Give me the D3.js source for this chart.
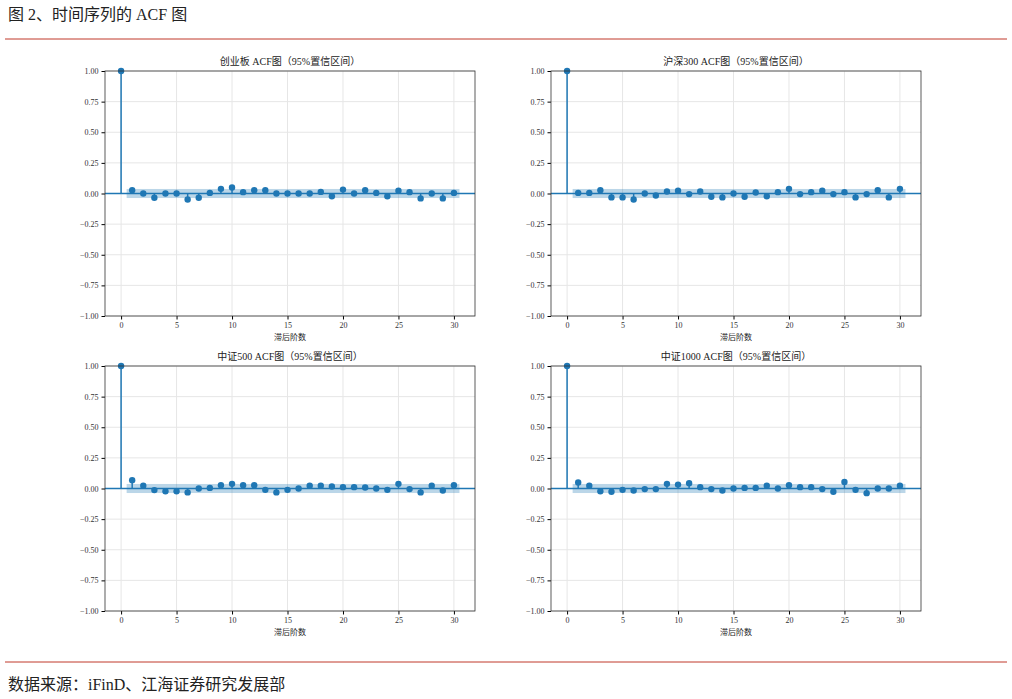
<!DOCTYPE html>
<html><head><meta charset="utf-8">
<script src="https://cdn.jsdelivr.net/npm/d3@7"></script>
<style>body{margin:0;background:#fff;font-family:"Liberation Serif","Noto Sans CJK SC",serif}</style>
</head><body><svg id="c" width="1012" height="699"></svg>
<script>
const titles = ["创业板 ACF图（95%置信区间）","沪深300 ACF图（95%置信区间）","中证500 ACF图（95%置信区间）","中证1000 ACF图（95%置信区间）"];
const lags = d3.range(0,31);
const s1 = [1,0.027,0,-0.035,0,0,-0.049,-0.035,0.005,0.038,0.049,0.011,0.027,0.027,0,0,0,0,0.013,-0.022,0.032,0,0.027,0.005,-0.022,0.022,0.011,-0.04,0,-0.04,0.005];
const s2 = [1,0.005,0.005,0.027,-0.032,-0.032,-0.049,0,-0.016,0.016,0.022,-0.005,0.016,-0.027,-0.032,0,-0.027,0.008,-0.022,0.011,0.038,-0.005,0.011,0.022,-0.005,0.011,-0.032,-0.005,0.027,-0.032,0.038];
const s3 = [1,0.067,0.022,-0.013,-0.022,-0.022,-0.032,0,0.005,0.027,0.038,0.027,0.027,-0.011,-0.032,-0.011,0,0.022,0.022,0.016,0.011,0.011,0.008,0,-0.011,0.038,-0.005,-0.032,0.022,-0.016,0.027];
const s4 = [1,0.049,0.022,-0.022,-0.027,-0.011,-0.016,-0.005,-0.005,0.038,0.032,0.043,0.011,-0.005,-0.016,0,0.005,0.005,0.022,0,0.027,0.011,0.011,-0.005,-0.027,0.054,-0.011,-0.038,0,0,0.022];
const series = [s1,s2,s3,s4];
const confBand = 0.037;
const yTicks = [-1,-0.75,-0.5,-0.25,0,0.25,0.5,0.75,1];
const xTicks = [0,5,10,15,20,25,30];
const xLabel = "滞后阶数";

const svg = d3.select("#c");
const blue = "#1f77b4";
svg.append("text").attr("x",8).attr("y",20).attr("font-size",16).attr("fill","#222").text("图 2、时间序列的 ACF 图");
svg.append("line").attr("x1",5).attr("x2",1007).attr("y1",39).attr("y2",39).attr("stroke","#c0392b").attr("stroke-width",1);
svg.append("line").attr("x1",5).attr("x2",1007).attr("y1",662).attr("y2",662).attr("stroke","#c0392b").attr("stroke-width",1);
svg.append("text").attr("x",8).attr("y",690).attr("font-size",16).attr("fill","#222").text("数据来源：iFinD、江海证券研究发展部");

const pos = [[105,71],[551,71],[105,366],[551,366]];
const W=370,H=245;
series.forEach((s,i)=>{
  const g = svg.append("g").attr("transform",`translate(${pos[i][0]},${pos[i][1]})`);
  const x = d3.scaleLinear().domain([-1.45,31.9]).range([0,W]);
  const y = d3.scaleLinear().domain([-1,1]).range([H,0]);
  g.selectAll(".gx").data(xTicks).join("line").attr("x1",d=>x(d)).attr("x2",d=>x(d)).attr("y1",0).attr("y2",H).attr("stroke","#e6e6e6");
  g.selectAll(".gy").data(yTicks).join("line").attr("y1",d=>y(d)).attr("y2",d=>y(d)).attr("x1",0).attr("x2",W).attr("stroke","#e6e6e6");
  g.append("rect").attr("x",x(0.5)).attr("width",x(30.5)-x(0.5)).attr("y",y(confBand)).attr("height",y(-confBand)-y(confBand)).attr("fill",blue).attr("opacity",0.3);
  g.append("line").attr("x1",0).attr("x2",W).attr("y1",y(0)).attr("y2",y(0)).attr("stroke",blue).attr("stroke-width",1.5);
  g.selectAll(".st").data(lags).join("line").attr("x1",d=>x(d)).attr("x2",d=>x(d)).attr("y1",y(0)).attr("y2",d=>y(s[d])).attr("stroke",blue).attr("stroke-width",1.5);
  g.selectAll(".pt").data(lags).join("circle").attr("cx",d=>x(d)).attr("cy",d=>y(s[d])).attr("r",3.2).attr("fill",blue);
  const ax = g.append("g").attr("transform",`translate(0,${H})`).call(d3.axisBottom(x).tickValues(xTicks).tickSize(3.5));
  const ay = g.append("g").call(d3.axisLeft(y).tickValues(yTicks).tickFormat(d3.format(".2f")).tickSize(3.5));
  [ax,ay].forEach(a=>{a.selectAll("text").attr("font-size",8).attr("fill","#333").attr("font-family","Liberation Serif");a.select(".domain").remove();});
  g.append("rect").attr("width",W).attr("height",H).attr("fill","none").attr("stroke","#333").attr("stroke-width",0.8);
  g.append("text").attr("x",W/2).attr("y",-6).attr("text-anchor","middle").attr("font-size",10).attr("fill","#222").text(titles[i]);
  g.append("text").attr("x",W/2).attr("y",H+24).attr("text-anchor","middle").attr("font-size",8).attr("fill","#222").text(xLabel);
});
</script></body></html>
